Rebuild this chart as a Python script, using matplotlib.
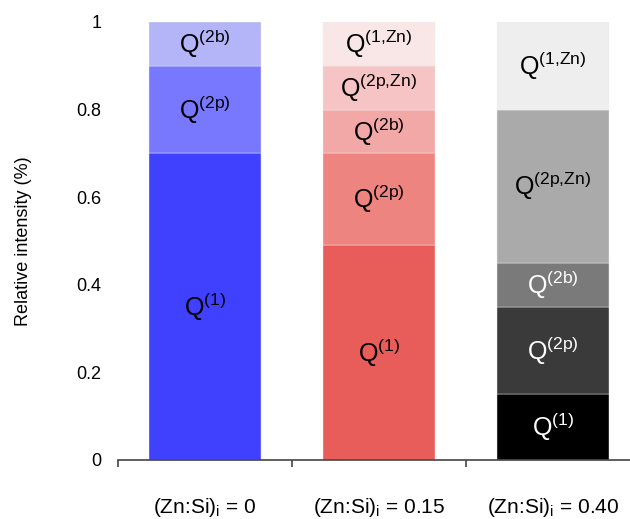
import matplotlib.pyplot as plt
import numpy as np

plt.rcParams['font.family'] = ['Liberation Sans', 'DejaVu Sans']
plt.rcParams['mathtext.default'] = 'regular'

# stacked fractions, bottom to top
categories = ['(Zn:Si)$_i$ = 0', '(Zn:Si)$_i$ = 0.15', '(Zn:Si)$_i$ = 0.40']
species = ['(1)', '(2p)', '(2b)', '(2p{,}Zn)', '(1{,}Zn)']
fractions = [
    [0.70, 0.20, 0.10, 0.00, 0.00],
    [0.49, 0.21, 0.10, 0.10, 0.10],
    [0.15, 0.20, 0.10, 0.35, 0.20],
]
colors = [
    ['#4040ff', '#7878ff', '#b4b4f8', '#ffffff', '#ffffff'],
    ['#e85c5a', '#ee8480', '#f2a8a6', '#f6c4c4', '#f9e6e6'],
    ['#000000', '#3a3a3a', '#7a7a7a', '#aaaaaa', '#eeeeee'],
]
text_colors = [
    ['black'] * 5,
    ['black'] * 5,
    ['white', 'white', 'white', 'black', 'black'],
]

fig = plt.figure(figsize=(6.30, 5.19), dpi=100)
ax = fig.add_axes([118 / 630, 59 / 519, 522 / 630, 438 / 519])

x = np.arange(len(categories))
for i in range(len(categories)):
    bottom = 0
    for j, frac in enumerate(fractions[i]):
        if frac <= 0:
            continue
        ax.bar(x[i], frac, bottom=bottom, width=0.645, color=colors[i][j],
               edgecolor='#eeeeee', linewidth=0.3)
        ax.text(x[i], bottom + frac / 2, 'Q$^{' + species[j] + '}$',
                ha='center', va='center', fontsize=18, color=text_colors[i][j])
        bottom += frac

ax.set_xlim(-0.5, 2.5)
ax.set_ylim(0, 1)
ax.set_yticks([0, 0.2, 0.4, 0.6, 0.8, 1])
ax.set_yticklabels(['0', '0.2', '0.4', '0.6', '0.8', '1'])
ax.tick_params(axis='y', length=0, labelsize=13, pad=12)
ax.set_xticks([-0.5, 0.5, 1.5, 2.5])
ax.set_xticklabels([])
ax.set_xticks(x, minor=True)
ax.set_xticklabels(categories, minor=True, fontsize=15)
ax.tick_params(axis='x', which='minor', length=0, pad=26)
ax.tick_params(axis='x', which='major', length=5, width=1.2, color='#444444')
for s in ['top', 'right', 'left']:
    ax.spines[s].set_visible(False)
ax.spines['bottom'].set_color('#444444')
ax.spines['bottom'].set_linewidth(1.2)
ax.set_ylabel('Relative intensity (%)', fontsize=13, labelpad=32)

fig.savefig('out.png', dpi=100)
